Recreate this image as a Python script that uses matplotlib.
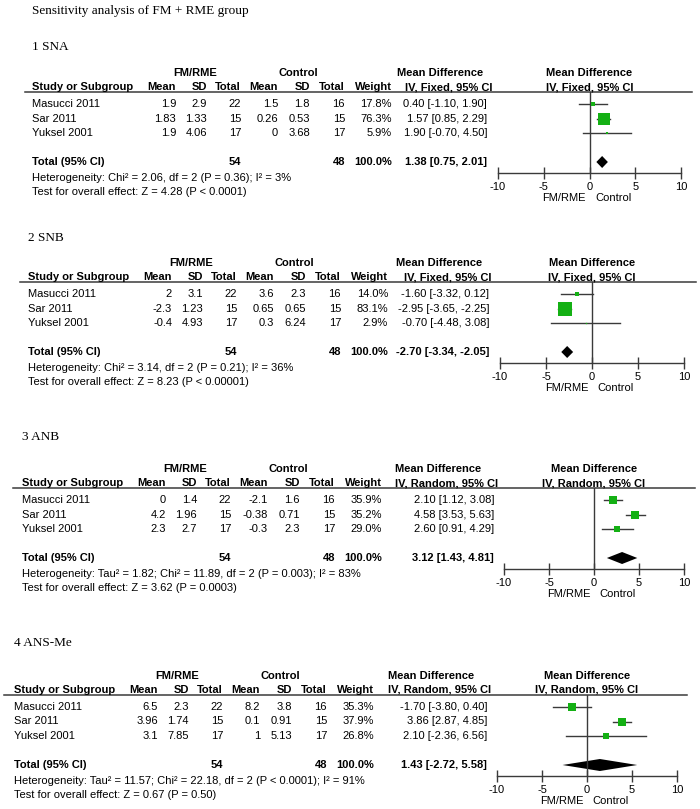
import matplotlib.pyplot as plt
from matplotlib.patches import Polygon

plt.rcParams['axes.unicode_minus'] = False
plt.rcParams['font.family'] = 'Liberation Sans'

# ---- data ----
title = "Sensitivity analysis of FM + RME group"
outcomes = ["1 SNA", "2 SNB", "3 ANB", "4 ANS-Me"]
methods = ["Fixed", "Fixed", "Random", "Random"]
studies = ["Masucci 2011", "Sar 2011", "Yuksel 2001"]

fm_mean = [[1.9, 1.83, 1.9], [2, -2.3, -0.4], [0, 4.2, 2.3], [6.5, 3.96, 3.1]]
fm_sd = [[2.9, 1.33, 4.06], [3.1, 1.23, 4.93], [1.4, 1.96, 2.7], [2.3, 1.74, 7.85]]
fm_n = [22, 15, 17]
ctrl_mean = [[1.5, 0.26, 0], [3.6, 0.65, 0.3], [-2.1, -0.38, -0.3], [8.2, 0.1, 1]]
ctrl_sd = [[1.8, 0.53, 3.68], [2.3, 0.65, 6.24], [1.6, 0.71, 2.3], [3.8, 0.91, 5.13]]
ctrl_n = [16, 15, 17]

weight = [[17.8, 76.3, 5.9], [14.0, 83.1, 2.9], [35.9, 35.2, 29.0], [35.3, 37.9, 26.8]]
total_weight = [100.0, 100.0, 100.0, 100.0]
md = [[0.40, 1.57, 1.90], [-1.60, -2.95, -0.70], [2.10, 4.58, 2.60], [-1.70, 3.86, 2.10]]
md_lo = [[-1.10, 0.85, -0.70], [-3.32, -3.65, -4.48], [1.12, 3.53, 0.91], [-3.80, 2.87, -2.36]]
md_hi = [[1.90, 2.29, 4.50], [0.12, -2.25, 3.08], [3.08, 5.63, 4.29], [0.40, 4.85, 6.56]]

pooled = [1.38, -2.70, 3.12, 1.43]
pooled_lo = [0.75, -3.34, 1.43, -2.72]
pooled_hi = [2.01, -2.05, 4.81, 5.58]

heterogeneity = [
    "Heterogeneity: Chi² = 2.06, df = 2 (P = 0.36); I² = 3%",
    "Heterogeneity: Chi² = 3.14, df = 2 (P = 0.21); I² = 36%",
    "Heterogeneity: Tau² = 1.82; Chi² = 11.89, df = 2 (P = 0.003); I² = 83%",
    "Heterogeneity: Tau² = 11.57; Chi² = 22.18, df = 2 (P < 0.0001); I² = 91%",
]
overall = [
    "Test for overall effect: Z = 4.28 (P < 0.0001)",
    "Test for overall effect: Z = 8.23 (P < 0.00001)",
    "Test for overall effect: Z = 3.62 (P = 0.0003)",
    "Test for overall effect: Z = 0.67 (P = 0.50)",
]
ticks = [-10, -5, 0, 5, 10]

# ---- layout (pixels) ----
W, H = 700, 809
line_y = [92, 282, 488, 695]
label_y = [47, 238, 437, 643]
study_x = [32, 28, 22, 14]
weight_x = [392, 388, 382, 374]
md_right = [487, 489, 494, 487]
md_hdr = [440, 439, 438, 431]
line_x = [(25, 692), (20, 696), (13, 695), (4, 687)]
forest_x = [(498, 681), (500, 684), (504, 684), (497, 677)]
col_off = [144, 175, 209, 246, 278, 313]

FS = 8
LC = '#3a3a3a'
GREEN = '#14b014'

fig = plt.figure(figsize=(7, 8.09), dpi=100)
bg = fig.add_axes([0, 0, 1, 1])
bg.set_xlim(0, W)
bg.set_ylim(H, 0)
bg.axis('off')

bg.text(32, 11, title, family='Liberation Serif', fontsize=9.5, va='center')

for p in range(4):
    T = line_y[p]
    sx = study_x[p]
    cx = [sx + c for c in col_off]
    wx = weight_x[p]
    rows = [T + 12 + 14.5 * i for i in range(3)]
    ty = T + 70

    bg.text(sx, label_y[p], outcomes[p], family='Liberation Serif', fontsize=9.5, va='center')

    # group headers
    bg.text((cx[0] - 26 + cx[2]) / 2, T - 19, "FM/RME", fontsize=FS, weight='bold', ha='center', va='center')
    bg.text((cx[3] - 26 + cx[5]) / 2, T - 19, "Control", fontsize=FS, weight='bold', ha='center', va='center')
    bg.text(md_hdr[p], T - 19, "Mean Difference", fontsize=FS, weight='bold', ha='center', va='center')

    # column headers
    hb = T - 2
    bg.text(sx, hb, "Study or Subgroup", fontsize=FS, weight='bold', va='baseline')
    for x, s in zip(cx, ["Mean", "SD", "Total", "Mean", "SD", "Total"]):
        bg.text(x, hb, s, fontsize=FS, weight='bold', ha='right', va='baseline')
    bg.text(wx, hb, "Weight", fontsize=FS, weight='bold', ha='right', va='baseline')
    bg.text(md_hdr[p] + 9, hb, f"IV, {methods[p]}, 95% CI", fontsize=FS, weight='bold',
            ha='center', va='baseline')
    bg.plot(line_x[p], [T, T], color=LC, lw=1.1)

    # study rows
    for i, y in enumerate(rows):
        vals = [f"{fm_mean[p][i]:g}", f"{fm_sd[p][i]:g}", str(fm_n[i]),
                f"{ctrl_mean[p][i]:g}", f"{ctrl_sd[p][i]:g}", str(ctrl_n[i])]
        bg.text(sx, y, studies[i], fontsize=FS, va='center')
        for x, s in zip(cx, vals):
            bg.text(x, y, s, fontsize=FS, ha='right', va='center')
        bg.text(wx, y, f"{weight[p][i]:.1f}%", fontsize=FS, ha='right', va='center')
        bg.text(md_right[p], y, f"{md[p][i]:.2f} [{md_lo[p][i]:.2f}, {md_hi[p][i]:.2f}]",
                fontsize=FS, ha='right', va='center')

    # total row
    bg.text(sx, ty, "Total (95% CI)", fontsize=FS, weight='bold', va='center')
    bg.text(cx[2], ty, str(sum(fm_n)), fontsize=FS, weight='bold', ha='right', va='center')
    bg.text(cx[5], ty, str(sum(ctrl_n)), fontsize=FS, weight='bold', ha='right', va='center')
    bg.text(wx, ty, f"{total_weight[p]:.1f}%", fontsize=FS, weight='bold', ha='right', va='center')
    bg.text(md_right[p], ty, f"{pooled[p]:.2f} [{pooled_lo[p]:.2f}, {pooled_hi[p]:.2f}]",
            fontsize=FS, weight='bold', ha='right', va='center')
    bg.text(sx, ty + 16, heterogeneity[p], fontsize=FS, va='center')
    bg.text(sx, ty + 30, overall[p], fontsize=FS, va='center')

    # forest plot axes
    ay = T + 81
    x0, x1 = forest_x[p]
    ax = fig.add_axes([x0 / W, 1 - ay / H, (x1 - x0) / W, (ay - T) / H])
    ax.set_xlim(-10, 10)
    ax.set_ylim(ay, T)
    ax.patch.set_alpha(0)
    for s in ['top', 'left', 'right']:
        ax.spines[s].set_visible(False)
    ax.spines['bottom'].set_color(LC)
    ax.spines['bottom'].set_linewidth(1)
    ax.set_xticks(ticks)
    ax.set_yticks([])
    ax.tick_params(axis='x', direction='inout', length=8, width=1, color=LC,
                   labelsize=FS, pad=2.5)
    ax.axvline(0, color=LC, lw=1)
    for i, y in enumerate(rows):
        ax.plot([md_lo[p][i], md_hi[p][i]], [y, y], color=LC, lw=1)
        side = 0.62 * weight[p][i] ** 0.7 * 0.72
        ax.plot(md[p][i], y, marker='s', ms=side, color=GREEN, mec=GREEN, mew=0)
    ax.add_patch(Polygon([[pooled_lo[p], ty], [pooled[p], ty - 6],
                          [pooled_hi[p], ty], [pooled[p], ty + 6]],
                         closed=True, color='black', lw=0))
    ax.text(0, T - 19, "Mean Difference", fontsize=FS, weight='bold', ha='center', va='center')
    ax.text(0, T - 2, f"IV, {methods[p]}, 95% CI", fontsize=FS, weight='bold',
            ha='center', va='baseline')
    ax.text(-0.4, ay + 25, "FM/RME", fontsize=FS, ha='right', va='center')
    ax.text(0.6, ay + 25, "Control", fontsize=FS, ha='left', va='center')

fig.savefig('out.png', dpi=100, facecolor='white')
